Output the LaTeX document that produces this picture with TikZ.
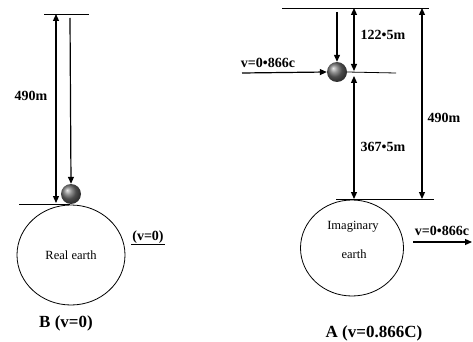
\documentclass[tikz,border=0pt]{standalone}
\usepackage{fontspec}
\setmainfont{Liberation Serif}
\usetikzlibrary{arrows.meta, shapes.geometric, positioning, calc}

\begin{document}
\begin{tikzpicture}[x=1pt, y=-1pt, >={Triangle[length=7pt,width=6pt]},
    lbl/.style={font=\bfseries\fontsize{14}{16}\selectfont, inner sep=1pt},
    ttl/.style={font=\bfseries\fontsize{17}{20}\selectfont},
    txt/.style={font=\fontsize{12.5}{14}\selectfont},
    earth/.style={ellipse, draw, line width=0.8pt, inner sep=0pt},
    ball/.style={circle, inner sep=0pt, minimum size=20pt, shading=ball, ball color=gray!85!black}]
\useasboundingbox (0,0) rectangle (473,342);

% B: ball dropped on the real earth
\coordinate (topB1) at (44,14);
\coordinate (topB2) at (89,14);
\coordinate (gndB1) at (19,204);
\coordinate (gndB2) at (70,204);
\coordinate (hB1) at (56,14);
\coordinate (hB2) at (56,203);
\coordinate (dropB) at (70,18);
\draw[line width=0.8pt] (topB1) -- (topB2);
\draw[line width=0.8pt] (gndB1) -- (gndB2);
\node[earth, minimum width=108pt, minimum height=100pt, txt] (earthB) at (71,255) {Real earth};
\node[ball] (ballB) at (71,194) {};
\draw[<->, line width=1.2pt] (hB1) -- (hB2);
\draw[->, line width=1.2pt] (dropB) -- (ballB.north);
\node[lbl] (hB) at (31,96) {490m};
\node[lbl] (vB) at (148,237) {(v=0)};
\draw[line width=0.8pt] (vB.south west) -- (vB.south east);
\node[ttl] (titleB) at (66,323) {B (v=0)};

% A: the moving (imaginary) earth
\coordinate (topA1) at (282,8);
\coordinate (topA2) at (429,8);
\coordinate (gndA1) at (336,199);
\coordinate (gndA2) at (434,199);
\coordinate (midA) at (396,73);
\coordinate (dropA) at (337,12);
\coordinate (vA1) at (242,73);
\coordinate (vA2) at (413,242);
\coordinate (vA3) at (472,242);
\draw[line width=0.8pt] (topA1) -- (topA2);
\draw[line width=0.8pt] (gndA1) -- (gndA2);
\node[ball] (ballA) at (337,72) {};
\draw[line width=0.8pt] (ballA.east) -- (midA);
\draw[->, line width=1.2pt] (dropA) -- (ballA.north);
\draw[->, line width=1.2pt] (vA1) -- (ballA.west);
\draw[<->, line width=1.2pt] (topA1 -| 354,0) -- (354,71);
\draw[<->, line width=1.2pt] (354,76) -- (gndA1 -| 354,0);
\draw[<->, line width=1.2pt] (topA1 -| 422,0) -- (gndA1 -| 422,0);
\node[lbl] (hA1) at (383,35) {122•5m};
\node[lbl] (hA2) at (383,147) {367•5m};
\node[lbl] (hA) at (444,118) {490m};
\node[lbl] (vA) at (268,63) {v=0•866c};
\node[earth, minimum width=103pt, minimum height=96pt] (earthA) at (352,248) {};
\node[txt] (imgA) at (353,227) {Imaginary};
\node[txt] (eaA) at (354,254) {earth};
\draw[->, line width=1.2pt] (vA2) -- (vA3);
\node[lbl] (vAe) at (442,231) {v=0•866c};
\node[ttl] (titleA) at (374,333) {A (v=0.866C)};
\end{tikzpicture}
\end{document}
